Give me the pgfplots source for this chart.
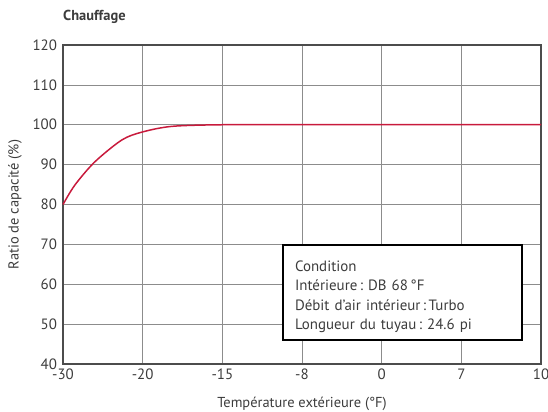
\documentclass[border=0pt]{standalone}
\usepackage{pgfplots}
\pgfplotsset{compat=1.18}
\usepackage{fontspec}
\setmainfont{PT Sans}
\definecolor{txt}{HTML}{3C3C3C}
\definecolor{curve}{HTML}{C81A3C}
\begin{document}
\begin{tikzpicture}
\begin{axis}[
 scale only axis, width=478bp, height=319bp,
 xmin=0, xmax=6, ymin=40, ymax=120,
 xtick={0,1,2,3,4,5,6}, xticklabels={-30,-20,-15,-8,0,7,10},
 ytick={40,50,60,70,80,90,100,110,120},
 grid=major, major grid style={black!45, line width=0.5pt},
 axis line style={black!70, line width=1.3pt},
 tick style={draw=none},
 ticklabel style={font=\fontsize{15}{16}\selectfont, text=txt},
 yticklabel style={xshift=-2.5bp},
 xticklabel style={yshift=-1.5bp},
 /pgf/number format/assume math mode=true,
 clip=false,
]
\addplot[curve, line width=1.5pt, smooth, tension=0.5] coordinates {
 (0,80) (0.15,84.9) (0.4,90.7) (0.74,96.2) (1,98.2) (1.37,99.6) (2,100) (3,100) (4,100) (5,100) (6,100)};
\fill[white] (axis cs:2.76,69.8) rectangle (axis cs:5.76,46.0);
\draw[black, line width=1.6pt] (axis cs:2.76,69.8) rectangle (axis cs:5.76,46.0);
\node[anchor=base west, inner sep=0pt, text width=225bp, align=left, text=txt,
 font=\fontsize{15}{19.7}\selectfont] at (axis cs:2.91,63.3)
 {Condition\\Intérieure\,:\,\,DB 68\,°F\\Débit d'air intérieur\,:\,Turbo\\Longueur du tuyau\,:\,\,24.6 pi};
\node[anchor=base west, inner sep=0pt, text=txt, font=\fontsize{14.5}{16}\selectfont\bfseries]
 at ([yshift=24bp]rel axis cs:0,1) {Chauffage};
\node[rotate=90, anchor=center, inner sep=0pt, text=txt, font=\fontsize{14.5}{16}\selectfont]
 at ([xshift=-48bp]rel axis cs:0,0.5) {Ratio de capacité (\%)};
\node[anchor=center, inner sep=0pt, text=txt, font=\fontsize{14.5}{16}\selectfont]
 at ([yshift=-39.5bp]rel axis cs:0.5,0) {Température extérieure (°F)};
\coordinate (SW) at (rel axis cs:0,0);
\coordinate (NE) at (rel axis cs:1,1);
\end{axis}
\pgfresetboundingbox
\path ([xshift=-63bp,yshift=-48bp]SW) rectangle ([xshift=7bp,yshift=45bp]NE);
\end{tikzpicture}
\end{document}
